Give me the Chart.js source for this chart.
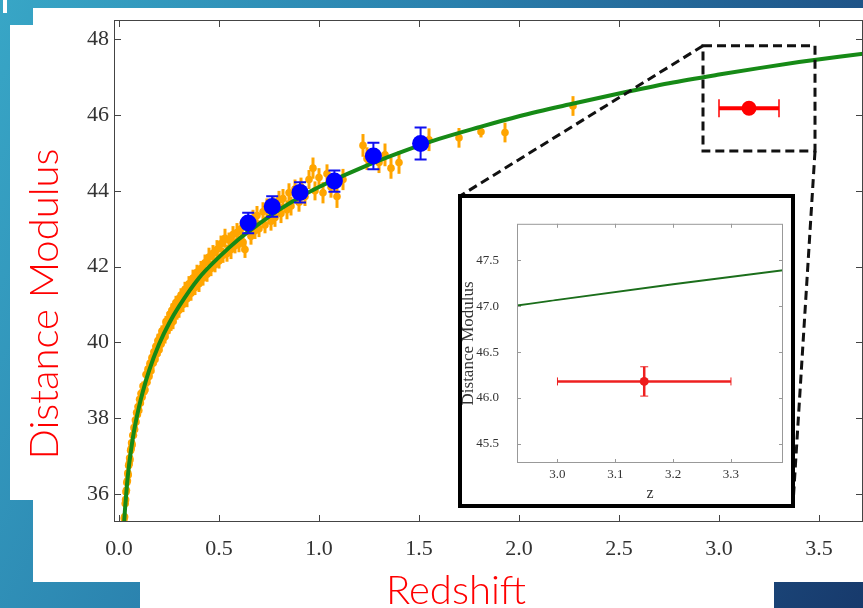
<!DOCTYPE html>
<html>
<head>
<meta charset="utf-8">
<script src="https://cdn.jsdelivr.net/npm/chart.js@4.4.0/dist/chart.umd.min.js"></script>
<style>
  html, body { margin: 0; padding: 0; }
  body {
    width: 863px; height: 608px; position: relative; overflow: hidden;
    background: linear-gradient(115deg, #38a6c6 0%, #2a80ad 40%, #1f5488 75%, #173a6c 100%);
  }
  .panel { position: absolute; background: #fff; }
  #grafikUtama { position: absolute; left: 0; top: 0; }
  #inset {
    position: absolute; left: 458px; top: 194px; width: 329px; height: 306px;
    border: 4px solid #000; background: #fff;
  }
  #inset canvas { display: block; }
</style>
</head>
<body>
<!-- latar slide putih -->
<div class="panel" style="left:33px;top:8px;width:830px;height:574px"></div>
<div class="panel" style="left:10px;top:25px;width:23px;height:475px"></div>
<div class="panel" style="left:140px;top:582px;width:634px;height:26px"></div>
<div class="panel" style="left:3px;top:0;width:4px;height:13px"></div>

<canvas id="grafikUtama" width="863" height="608"></canvas>
<div id="inset"><canvas id="grafikInset" width="329" height="306"></canvas></div>

<script>
// ===== DATA =====
// Kurva model (hijau)
const kurvaZ  = [0.02, 0.025, 0.03, 0.04, 0.05, 0.06, 0.07, 0.08, 0.1, 0.12, 0.15, 0.2, 0.25, 0.3, 0.4, 0.5,
                 0.6, 0.7, 0.8, 0.9, 1.0, 1.2, 1.4, 1.6, 1.8, 2.0, 2.25, 2.5, 2.75, 3.0, 3.2, 3.4, 3.6, 3.8];
const kurvaMu = [34.7, 35.2, 35.6, 36.25, 36.75, 37.15, 37.5, 37.8, 38.3, 38.72, 39.25, 39.95, 40.5, 40.95, 41.7, 42.25,
                 42.73, 43.13, 43.5, 43.82, 44.1, 44.58, 45.0, 45.37, 45.68, 45.97, 46.28, 46.57, 46.84, 47.07, 47.24, 47.40, 47.54, 47.67];

// Supernova (oranye)
const snZ = [
  0.026, 0.028, 0.031, 0.033, 0.035, 0.037, 0.039, 0.042, 0.044, 0.046,
  0.048, 0.051, 0.053, 0.055, 0.058, 0.061, 0.063, 0.066, 0.069, 0.072,
  0.075, 0.078, 0.082, 0.085, 0.088, 0.092, 0.095, 0.099, 0.103, 0.107,
  0.11, 0.115, 0.12, 0.125, 0.13, 0.135, 0.14, 0.145, 0.15, 0.155,
  0.16, 0.165, 0.17, 0.175, 0.18, 0.185, 0.19, 0.195, 0.2, 0.205,
  0.21, 0.215, 0.22, 0.225, 0.23, 0.235, 0.24, 0.245, 0.25, 0.255,
  0.26, 0.265, 0.27, 0.275, 0.28, 0.285, 0.29, 0.295, 0.3, 0.31,
  0.32, 0.33, 0.34, 0.35, 0.36, 0.37, 0.38, 0.39, 0.4, 0.41,
  0.42, 0.43, 0.44, 0.45, 0.46, 0.47, 0.48, 0.49, 0.5, 0.51,
  0.52, 0.53, 0.54, 0.55, 0.56, 0.57, 0.58, 0.59, 0.6, 0.61,
  0.62, 0.63, 0.64, 0.66, 0.67, 0.68, 0.69, 0.7, 0.72, 0.73,
  0.74, 0.76, 0.77, 0.78, 0.8, 0.81, 0.82, 0.84, 0.85, 0.86,
  0.88, 0.9, 0.91, 0.93, 0.95, 0.97, 0.98, 1.0, 1.02, 1.04,
  1.06, 1.09, 1.12, 1.22, 1.24, 1.3, 1.33, 1.36, 1.4, 1.55,
  1.7, 1.81, 1.93, 2.27
];
const snMu = [
  35.35, 35.4, 35.75, 35.85, 36.05, 36.1, 36.3, 36.35, 36.55, 36.5,
  36.75, 36.8, 36.95, 36.9, 37.15, 37.2, 37.35, 37.3, 37.55, 37.55,
  37.75, 37.7, 37.95, 37.9, 38.15, 38.1, 38.3, 38.2, 38.5, 38.4,
  38.65, 38.55, 38.85, 38.7, 38.75, 39.15, 38.95, 39.3, 39.1, 39.45,
  39.25, 39.6, 39.45, 39.75, 39.55, 39.9, 39.7, 40.05, 39.8, 40.15,
  39.95, 40.3, 40.1, 40.35, 40.15, 40.55, 40.3, 40.6, 40.4, 40.75,
  40.5, 40.85, 40.55, 40.95, 40.7, 41.05, 40.8, 41.1, 40.85, 41.25,
  41.0, 41.4, 41.15, 41.55, 41.3, 41.7, 41.45, 41.85, 41.55, 41.95,
  41.7, 42.1, 41.8, 42.25, 41.95, 42.35, 42.05, 42.45, 42.15, 42.6,
  42.3, 42.75, 42.35, 42.7, 42.45, 42.85, 42.55, 42.9, 42.6, 43.0,
  42.65, 42.45, 43.1, 42.8, 43.25, 42.95, 43.35, 43.0, 43.45, 43.1,
  43.55, 43.2, 43.6, 43.3, 43.75, 43.4, 43.8, 43.5, 43.95, 43.6,
  44.05, 43.7, 44.1, 43.85, 44.3, 44.6, 44.0, 44.35, 43.95, 44.45,
  44.1, 43.85, 44.3, 45.2, 44.85, 44.75, 44.95, 44.6, 44.75, 45.35,
  45.4, 45.56, 45.54, 46.24
];
const snErr = [
  0.1, 0.1, 0.1, 0.1, 0.1, 0.1, 0.1, 0.1, 0.1, 0.1,
  0.1, 0.1, 0.1, 0.1, 0.1, 0.1, 0.1, 0.1, 0.1, 0.1,
  0.12, 0.12, 0.12, 0.12, 0.12, 0.12, 0.12, 0.12, 0.12, 0.12,
  0.12, 0.15, 0.12, 0.15, 0.12, 0.15, 0.12, 0.15, 0.12, 0.15,
  0.15, 0.18, 0.15, 0.18, 0.15, 0.18, 0.15, 0.18, 0.15, 0.18,
  0.18, 0.15, 0.18, 0.2, 0.18, 0.15, 0.18, 0.2, 0.18, 0.15,
  0.2, 0.18, 0.2, 0.15, 0.2, 0.18, 0.2, 0.15, 0.2, 0.18,
  0.2, 0.2, 0.22, 0.2, 0.2, 0.22, 0.2, 0.2, 0.22, 0.2,
  0.2, 0.22, 0.2, 0.25, 0.2, 0.22, 0.2, 0.25, 0.2, 0.22,
  0.2, 0.25, 0.22, 0.2, 0.25, 0.22, 0.2, 0.25, 0.22, 0.2,
  0.25, 0.22, 0.25, 0.22, 0.25, 0.22, 0.25, 0.22, 0.25, 0.22,
  0.25, 0.25, 0.25, 0.25, 0.25, 0.25, 0.25, 0.25, 0.25, 0.25,
  0.25, 0.25, 0.25, 0.25, 0.25, 0.28, 0.25, 0.25, 0.28, 0.25,
  0.28, 0.3, 0.28, 0.3, 0.3, 0.28, 0.3, 0.28, 0.3, 0.3,
  0.26, 0.15, 0.26, 0.26
];

// Titik biru (GRB)
const grbZ   = [0.646, 0.766, 0.905, 1.077, 1.272, 1.508];
const grbMu  = [43.15, 43.59, 43.96, 44.26, 44.92, 45.25];
const grbErr = [0.27, 0.27, 0.27, 0.28, 0.35, 0.42];

// Titik merah
const merahZ     = [3.15];
const merahMu    = [46.18];
const merahErrZ  = [0.15];
const merahErrMu = [0.16];

// Kotak perbesaran (garis putus-putus)
const kotakZ  = [2.92, 3.48];
const kotakMu = [45.05, 47.83];

// Label sumbu
const sumbuXTicks = [0, 0.5, 1.0, 1.5, 2.0, 2.5, 3.0, 3.5];
const sumbuYTicks = [36, 38, 40, 42, 44, 46, 48];
const insetXTicks = [3.0, 3.1, 3.2, 3.3];
const insetYTicks = [45.5, 46.0, 46.5, 47.0, 47.5];

const judulX = 'Redshift';
const judulY = 'Distance Modulus';

const keTitik = (xs, ys) => xs.map((v, i) => ({ x: v, y: ys[i] }));

// ===== PLUGIN =====
// Menggambar error bar sebelum titik dataset digambar
const errorBars = {
  id: 'errorBars',
  beforeDatasetDraw(chart, args) {
    const ds = chart.data.datasets[args.index];
    if (!ds.errY && !ds.errX) return;
    const { ctx, chartArea, scales: { x, y } } = chart;
    ctx.save();
    ctx.beginPath();
    ctx.rect(chartArea.left, chartArea.top, chartArea.right - chartArea.left, chartArea.bottom - chartArea.top);
    ctx.clip();
    ctx.strokeStyle = ds.errColor;
    ds.data.forEach((p, i) => {
      const px = x.getPixelForValue(p.x);
      const py = y.getPixelForValue(p.y);
      if (ds.errY && ds.errY[i] !== undefined) {
        const y1 = y.getPixelForValue(p.y - ds.errY[i]);
        const y2 = y.getPixelForValue(p.y + ds.errY[i]);
        ctx.lineWidth = ds.errWidth;
        ctx.beginPath(); ctx.moveTo(px, y1); ctx.lineTo(px, y2); ctx.stroke();
        if (ds.capY) {
          ctx.lineWidth = ds.capLineWidth || ds.errWidth;
          ctx.beginPath();
          ctx.moveTo(px - ds.capY, y1); ctx.lineTo(px + ds.capY, y1);
          ctx.moveTo(px - ds.capY, y2); ctx.lineTo(px + ds.capY, y2);
          ctx.stroke();
        }
      }
      if (ds.errX && ds.errX[i] !== undefined) {
        const x1 = x.getPixelForValue(p.x - ds.errX[i]);
        const x2 = x.getPixelForValue(p.x + ds.errX[i]);
        ctx.lineWidth = ds.errWidth;
        ctx.beginPath(); ctx.moveTo(x1, py); ctx.lineTo(x2, py); ctx.stroke();
        if (ds.capX) {
          ctx.lineWidth = ds.capLineWidth || ds.errWidth;
          ctx.beginPath();
          ctx.moveTo(x1, py - ds.capX); ctx.lineTo(x1, py + ds.capX);
          ctx.moveTo(x2, py - ds.capX); ctx.lineTo(x2, py + ds.capX);
          ctx.stroke();
        }
      }
    });
    ctx.restore();
  }
};

// Bingkai kotak + tick ke dalam di keempat sisi (gaya matplotlib)
const bingkai = {
  id: 'bingkai',
  afterDraw(chart, args, opts) {
    const { ctx, chartArea: { left, right, top, bottom }, scales: { x, y } } = chart;
    ctx.save();
    ctx.strokeStyle = opts.color;
    ctx.lineWidth = 1;
    ctx.strokeRect(left + 0.5, top + 0.5, right - left - 1, bottom - top - 1);
    ctx.beginPath();
    x.ticks.forEach(t => {
      const px = Math.round(x.getPixelForValue(t.value)) + 0.5;
      ctx.moveTo(px, bottom); ctx.lineTo(px, bottom - opts.len);
      ctx.moveTo(px, top); ctx.lineTo(px, top + opts.len);
    });
    y.ticks.forEach(t => {
      const py = Math.round(y.getPixelForValue(t.value)) + 0.5;
      ctx.moveTo(left, py); ctx.lineTo(left + opts.len, py);
      ctx.moveTo(right, py); ctx.lineTo(right - opts.len, py);
    });
    ctx.stroke();
    ctx.restore();
  }
};

// Kotak perbesaran + garis penghubung ke inset
const kotakZoom = {
  id: 'kotakZoom',
  afterDatasetsDraw(chart) {
    const { ctx, scales: { x, y } } = chart;
    const x1 = x.getPixelForValue(kotakZ[0]), x2 = x.getPixelForValue(kotakZ[1]);
    const y1 = y.getPixelForValue(kotakMu[1]), y2 = y.getPixelForValue(kotakMu[0]);
    const kanvas = chart.canvas.getBoundingClientRect();
    const r = document.getElementById('inset').getBoundingClientRect();
    ctx.save();
    ctx.strokeStyle = '#111';
    ctx.lineWidth = 3;
    ctx.setLineDash([9, 5]);
    ctx.strokeRect(x1, y1, x2 - x1, y2 - y1);
    ctx.beginPath();
    ctx.moveTo(x1, y1); ctx.lineTo(r.left - kanvas.left + 2, r.top - kanvas.top + 2);
    ctx.moveTo(x2, y2); ctx.lineTo(r.right - kanvas.left - 2, r.bottom - kanvas.top - 4);
    ctx.stroke();
    ctx.restore();
  }
};

// Judul sumbu merah milik slide
const judulSlide = {
  id: 'judulSlide',
  afterDraw(chart) {
    const { ctx } = chart;
    ctx.save();
    ctx.fillStyle = '#ff0000';
    ctx.font = '300 40px Lato';
    ctx.textAlign = 'center';
    ctx.textBaseline = 'alphabetic';
    ctx.fillText(judulX, 456, 604);
    ctx.translate(58, 304);
    ctx.rotate(-Math.PI / 2);
    ctx.fillText(judulY, 0, 0);
    ctx.restore();
  }
};

const fontSerif = 'Liberation Serif';
const tanpaPadding = s => { s.paddingLeft = 0; s.paddingRight = 0; };

// ===== GRAFIK UTAMA =====
new Chart(document.getElementById('grafikUtama'), {
  type: 'scatter',
  data: {
    datasets: [
      {
        label: 'SN', data: keTitik(snZ, snMu), errY: snErr, errColor: '#ffa500', errWidth: 3,
        backgroundColor: '#ffa500', borderWidth: 0, pointRadius: 3.8, order: 4
      },
      {
        type: 'line', label: 'Model', data: keTitik(kurvaZ, kurvaMu), borderColor: '#168a16', borderWidth: 4,
        pointRadius: 0, fill: false, cubicInterpolationMode: 'monotone', order: 3
      },
      {
        label: 'GRB', data: keTitik(grbZ, grbMu), errY: grbErr, errColor: '#1010f0', errWidth: 2, capY: 6,
        backgroundColor: '#0000ff', borderWidth: 0, pointRadius: 8.5, order: 2
      },
      {
        label: 'Merah', data: keTitik(merahZ, merahMu), errX: merahErrZ, errY: merahErrMu, errColor: '#ff0000',
        errWidth: 4, capX: 9, capLineWidth: 1.5, backgroundColor: '#ff0000', borderWidth: 0, pointRadius: 7.5, order: 1
      }
    ]
  },
  options: {
    responsive: false,
    animation: false,
    events: [],
    layout: { autoPadding: false, padding: { top: 20, left: 0, right: 0, bottom: 0 } },
    plugins: { legend: { display: false }, tooltip: { enabled: false }, bingkai: { len: 7, color: '#444' } },
    scales: {
      x: {
        type: 'linear', min: -0.025, max: 3.72,
        grid: { display: false, drawTicks: false }, border: { display: false },
        afterBuildTicks: s => { s.ticks = sumbuXTicks.map(v => ({ value: v })); },
        afterFit: s => { s.height = 86; tanpaPadding(s); },
        ticks: { padding: 14, color: '#333', font: { family: fontSerif, size: 22 }, callback: v => Number(v).toFixed(1) }
      },
      y: {
        type: 'linear', min: 35.26, max: 48.51,
        grid: { display: false, drawTicks: false }, border: { display: false },
        afterBuildTicks: s => { s.ticks = sumbuYTicks.map(v => ({ value: v })); },
        afterFit: s => { s.width = 114; },
        ticks: { padding: 5, color: '#333', font: { family: fontSerif, size: 22 }, callback: v => String(v) }
      }
    }
  },
  plugins: [errorBars, bingkai, kotakZoom, judulSlide]
});

// ===== GRAFIK INSET =====
new Chart(document.getElementById('grafikInset'), {
  type: 'scatter',
  data: {
    datasets: [
      {
        type: 'line', label: 'Model', data: keTitik(kurvaZ, kurvaMu), borderColor: '#1b6e1b', borderWidth: 2,
        pointRadius: 0, fill: false, cubicInterpolationMode: 'monotone', order: 2
      },
      {
        label: 'Merah', data: keTitik(merahZ, merahMu), errX: merahErrZ, errY: merahErrMu, errColor: '#ee2020',
        errWidth: 2.5, capX: 4, capY: 4, capLineWidth: 1, backgroundColor: '#ee1b1b', borderWidth: 0, pointRadius: 4.5, order: 1
      }
    ]
  },
  options: {
    responsive: false,
    animation: false,
    events: [],
    layout: { autoPadding: false, padding: { top: 5, left: 0, right: 8, bottom: 0 } },
    plugins: { legend: { display: false }, tooltip: { enabled: false }, bingkai: { len: 4, color: '#999' } },
    scales: {
      x: {
        type: 'linear', min: 2.93, max: 3.39,
        grid: { display: false, drawTicks: false }, border: { display: false },
        afterBuildTicks: s => { s.ticks = insetXTicks.map(v => ({ value: v })); },
        afterFit: s => { s.height = 41; tanpaPadding(s); },
        ticks: { padding: 4, color: '#333', font: { family: fontSerif, size: 13 }, callback: v => Number(v).toFixed(1) },
        title: { display: true, text: 'z', color: '#333', font: { family: fontSerif, size: 16, lineHeight: 1 }, padding: { top: 0, bottom: 2 } }
      },
      y: {
        type: 'linear', min: 45.29, max: 47.9,
        grid: { display: false, drawTicks: false }, border: { display: false },
        afterBuildTicks: s => { s.ticks = insetYTicks.map(v => ({ value: v })); },
        afterFit: s => { s.width = 55; },
        ticks: { padding: 18, color: '#333', font: { family: fontSerif, size: 13 }, callback: v => Number(v).toFixed(1) },
        title: { display: true, text: 'Distance Modulus', color: '#333', font: { family: fontSerif, size: 17, lineHeight: 1 }, padding: { top: -2, bottom: 0 } }
      }
    }
  },
  plugins: [errorBars, bingkai]
});
</script>
</body>
</html>
